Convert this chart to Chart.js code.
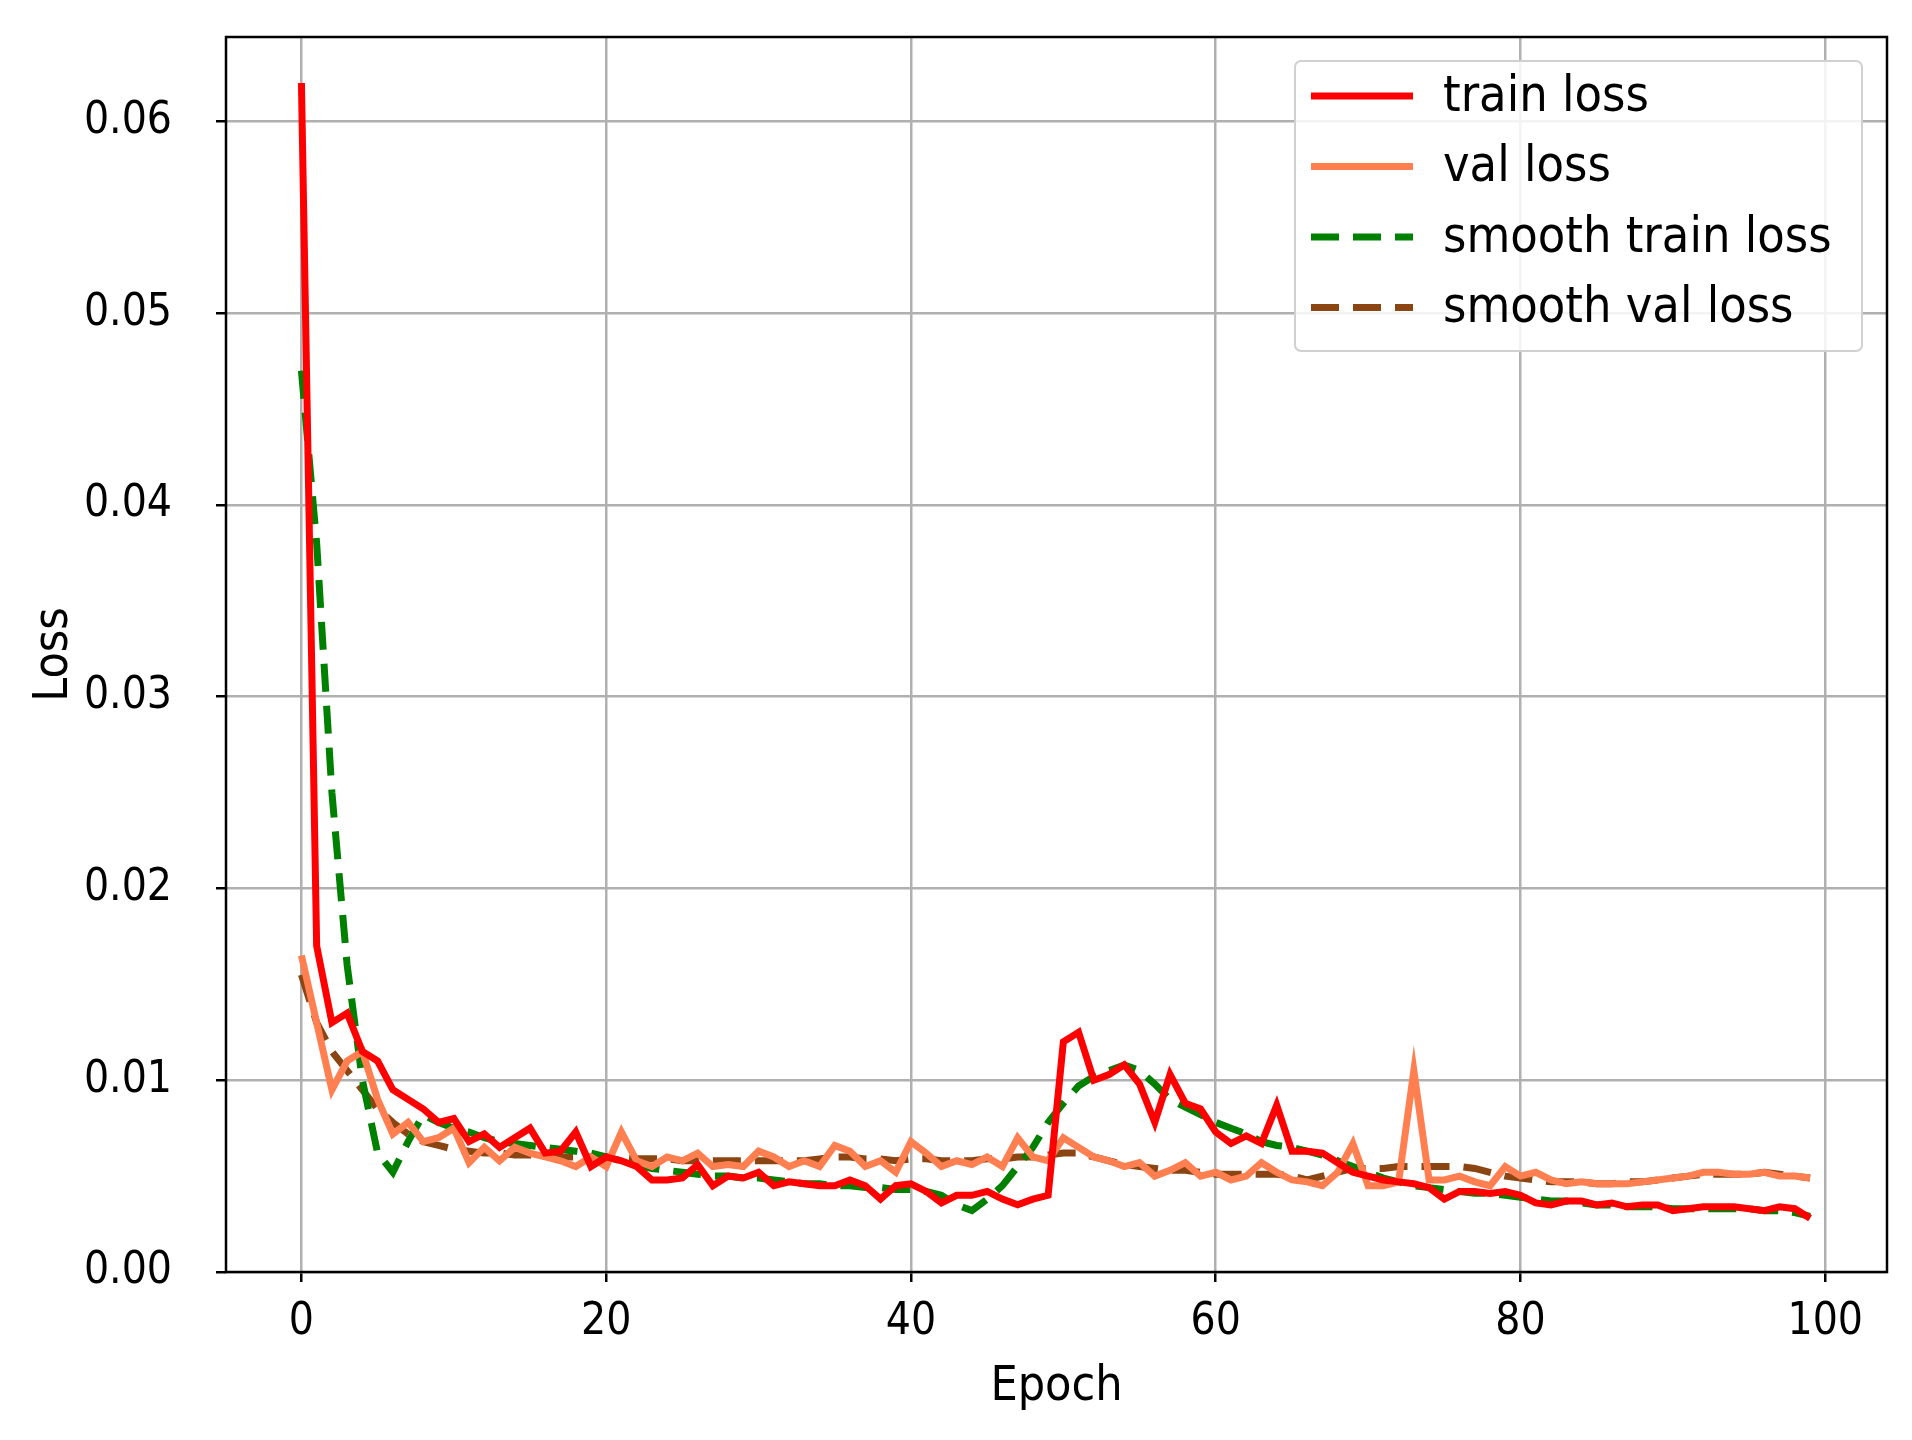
<!DOCTYPE html>
<html><head><meta charset="utf-8">
<script src="https://cdn.jsdelivr.net/npm/chart.js@4"></script>
<style>html,body{margin:0;padding:0;background:#fff}#w{width:1912px;height:1440px}</style>
</head><body><div id="w"><canvas id="c"></canvas></div>
<script>
const epochs = Array.from({length:100},(_,i)=>i);
const trainLoss = [0.062,0.017,0.013,0.0135,0.0115,0.011,0.0095,0.009,0.0085,0.0078,0.008,0.0068,0.0072,0.0065,0.007,0.0075,0.0062,0.0063,0.0073,0.0055,0.006,0.0058,0.0055,0.0048,0.0048,0.0049,0.0056,0.0045,0.005,0.0049,0.0052,0.0045,0.0047,0.0046,0.0045,0.0045,0.0048,0.0045,0.0038,0.0045,0.0046,0.0042,0.0036,0.004,0.004,0.0042,0.0038,0.0035,0.0038,0.004,0.012,0.0125,0.01,0.0103,0.0108,0.0098,0.0078,0.0103,0.0088,0.0085,0.0073,0.0067,0.0071,0.0067,0.0087,0.0063,0.0063,0.0062,0.0057,0.0052,0.005,0.0048,0.0047,0.0046,0.0044,0.0038,0.0042,0.0042,0.0041,0.0042,0.004,0.0036,0.0035,0.0037,0.0037,0.0035,0.0036,0.0034,0.0035,0.0035,0.0032,0.0033,0.0034,0.0034,0.0034,0.0033,0.0032,0.0034,0.0033,0.0028];
const valLoss = [0.0165,0.013,0.0095,0.011,0.0115,0.009,0.0072,0.0078,0.0068,0.007,0.0075,0.0057,0.0065,0.0058,0.0065,0.0062,0.006,0.0058,0.0055,0.006,0.0055,0.0073,0.0058,0.0055,0.006,0.0058,0.0062,0.0055,0.0056,0.0055,0.0063,0.006,0.0055,0.0058,0.0055,0.0066,0.0063,0.0055,0.0058,0.0052,0.0068,0.0062,0.0055,0.0058,0.0056,0.006,0.0055,0.007,0.006,0.0058,0.007,0.0065,0.006,0.0058,0.0055,0.0057,0.005,0.0053,0.0057,0.005,0.0052,0.0048,0.005,0.0057,0.0052,0.0048,0.0047,0.0045,0.0052,0.0067,0.0045,0.0045,0.0047,0.0105,0.0048,0.0048,0.005,0.0047,0.0045,0.0055,0.005,0.0052,0.0048,0.0046,0.0047,0.0046,0.0046,0.0046,0.0047,0.0048,0.0049,0.005,0.0052,0.0052,0.0051,0.0051,0.0052,0.005,0.005,0.0049];
const smoothTrain = [0.047,0.038,0.025,0.016,0.01,0.0062,0.0052,0.0068,0.0082,0.0078,0.0075,0.0073,0.007,0.0068,0.0067,0.0066,0.0065,0.0064,0.0063,0.0062,0.006,0.0058,0.0056,0.0054,0.0053,0.0052,0.0051,0.005,0.005,0.0049,0.0049,0.0048,0.0047,0.0046,0.0046,0.0045,0.0045,0.0044,0.0044,0.0043,0.0043,0.0042,0.004,0.0035,0.0032,0.0038,0.0045,0.0055,0.0065,0.0078,0.0088,0.0097,0.0102,0.0105,0.0108,0.0105,0.0098,0.009,0.0086,0.0082,0.0078,0.0075,0.0072,0.0068,0.0066,0.0065,0.0063,0.0061,0.0058,0.0055,0.0052,0.0049,0.0047,0.0045,0.0044,0.0043,0.0042,0.0041,0.0041,0.004,0.0039,0.0038,0.0037,0.0037,0.0036,0.0035,0.0035,0.0034,0.0034,0.0034,0.0033,0.0033,0.0033,0.0033,0.0033,0.0033,0.0032,0.0032,0.0031,0.0029];
const smoothVal = [0.0155,0.013,0.0115,0.0105,0.0095,0.0085,0.0078,0.0072,0.0068,0.0066,0.0064,0.0063,0.0062,0.0062,0.0061,0.0061,0.0061,0.006,0.006,0.006,0.006,0.006,0.0059,0.0059,0.0059,0.0058,0.0058,0.0058,0.0058,0.0058,0.0058,0.0058,0.0058,0.0058,0.0059,0.006,0.006,0.0059,0.0059,0.0058,0.0059,0.0059,0.0058,0.0058,0.0058,0.0059,0.0059,0.006,0.006,0.0061,0.0062,0.0062,0.006,0.0058,0.0056,0.0055,0.0054,0.0053,0.0053,0.0052,0.0051,0.0051,0.0051,0.0051,0.0051,0.005,0.0048,0.005,0.0052,0.0054,0.0054,0.0054,0.0055,0.0055,0.0055,0.0055,0.0055,0.0054,0.0052,0.005,0.0049,0.0048,0.0047,0.0047,0.0047,0.0046,0.0046,0.0047,0.0047,0.0048,0.0049,0.005,0.0051,0.0051,0.0051,0.0051,0.0052,0.0051,0.005,0.0049];
const xTicks = [0,20,40,60,80,100];
const yTicks = [0,0.01,0.02,0.03,0.04,0.05,0.06];

const FONT = '"DejaVu Sans Condensed", "DejaVu Sans"';
const pts = arr => arr.map((v,i)=>({x:epochs[i], y:v}));
const series = [
  {label:'train loss', data:pts(trainLoss), borderColor:'#ff0000', dash:[]},
  {label:'val loss', data:pts(valLoss), borderColor:'#ff7f50', dash:[]},
  {label:'smooth train loss', data:pts(smoothTrain), borderColor:'#008000', dash:[28,14]},
  {label:'smooth val loss', data:pts(smoothVal), borderColor:'#8b4513', dash:[28,14]}
];
const legendPlugin = {
  id:'inLegend',
  afterDraw(chart){
    const ctx = chart.ctx, a = chart.chartArea;
    ctx.save();
    ctx.strokeStyle='#000'; ctx.lineWidth=2.5; ctx.setLineDash([]);
    ctx.strokeRect(a.left, a.top, a.right-a.left, a.bottom-a.top);
    const x0=1295, y0=61, w=567, h=290;
    ctx.fillStyle='rgba(255,255,255,0.85)';
    ctx.strokeStyle='#d0d0d0'; ctx.lineWidth=2;
    ctx.beginPath(); ctx.roundRect(x0,y0,w,h,6); ctx.fill(); ctx.stroke();
    ctx.font = '50px '+FONT; ctx.textBaseline='middle';
    chart.data.datasets.forEach((d,i)=>{
      const y = y0+35+i*70.5;
      ctx.strokeStyle=d.borderColor; ctx.lineWidth=7; ctx.setLineDash(d.borderDash||[]);
      ctx.beginPath(); ctx.moveTo(x0+16,y); ctx.lineTo(x0+118,y); ctx.stroke();
      ctx.fillStyle='#000'; ctx.fillText(d.label, x0+148, y+2);
    });
    ctx.restore();
  }
};
new Chart(document.getElementById('c'), {
  type:'line',
  data:{datasets: series.map(s=>({label:s.label, data:s.data, borderColor:s.borderColor, borderDash:s.dash, borderWidth:7, pointRadius:0, fill:false, tension:0}))},
  options:{
    responsive:true, maintainAspectRatio:false, animation:false,
    layout:{padding:{top:37, right:25, left:22, bottom:20}},
    plugins:{legend:{display:false}, tooltip:{enabled:false}},
    scales:{
      x:{type:'linear', min:-4.95, max:104.05,
        afterBuildTicks: ax=>{ ax.ticks = xTicks.map(v=>({value:v})); },
        afterFit: ax=>{ ax.height = 148; ax.paddingLeft = 0; ax.paddingRight = 0; },
        grid:{color:'#b0b0b0', lineWidth:2.5, drawTicks:true, tickLength:10, tickColor:'#000', tickWidth:2.5},
        border:{display:false},
        ticks:{font:{family:FONT, size:44}, color:'#000', padding:14, maxRotation:0},
        title:{display:true, text:'Epoch', font:{family:FONT, size:48}, color:'#000', padding:{top:0}}
      },
      y:{type:'linear', min:0, max:0.0644,
        afterBuildTicks: ax=>{ ax.ticks = yTicks.map(v=>({value:v})); },
        afterFit: ax=>{ ax.width = 204; ax.paddingTop = 0; ax.paddingBottom = 0; },
        grid:{color:'#b0b0b0', lineWidth:2.5, drawTicks:true, tickLength:10, tickColor:'#000', tickWidth:2.5},
        border:{display:false},
        ticks:{font:{family:FONT, size:44}, color:'#000', padding:44, callback:v=>v.toFixed(2)},
        title:{display:true, text:'Loss', font:{family:FONT, size:48}, color:'#000', padding:{bottom:10}}
      }
    }
  },
  plugins:[legendPlugin]
});
</script></body></html>
